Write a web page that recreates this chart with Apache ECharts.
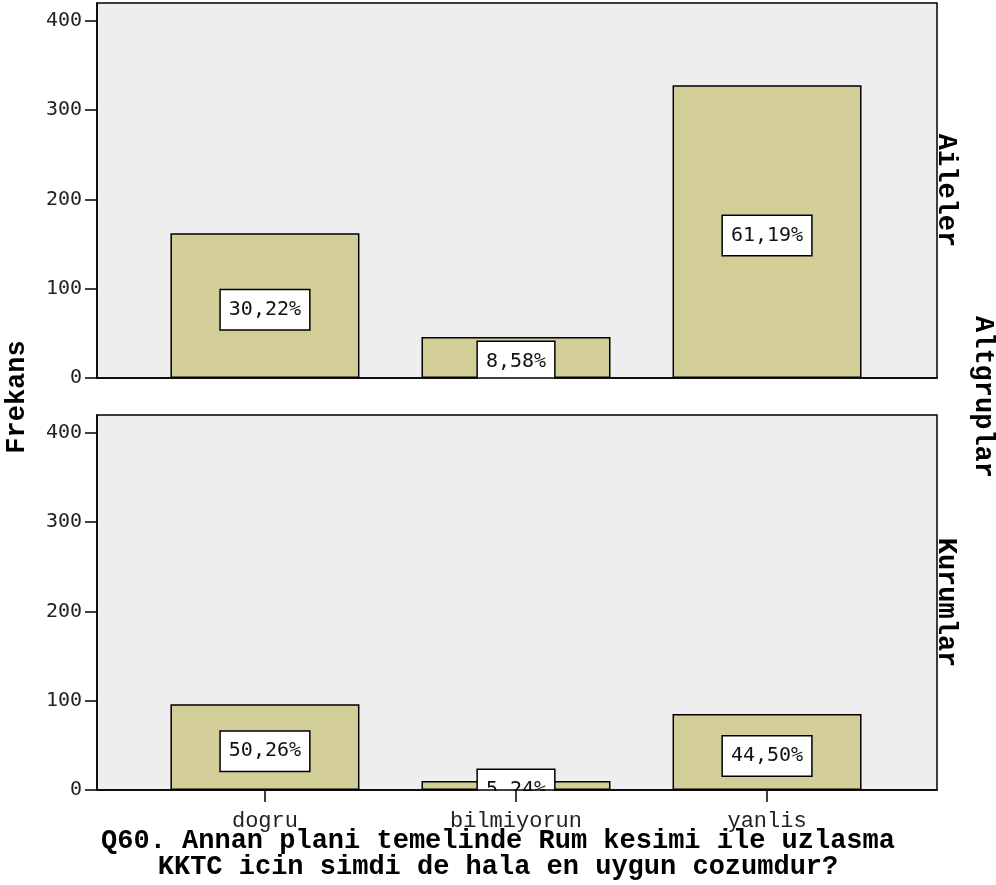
<!DOCTYPE html>
<html>
<head>
<meta charset="utf-8">
<script src="https://cdn.jsdelivr.net/npm/echarts@6/dist/echarts.min.js"></script>
<style>html,body{margin:0;padding:0;background:#fff;}#c{width:996px;height:885px;}</style>
</head>
<body>
<div id="c"></div>
<script>
const categories = ['dogru', 'bilmiyorun', 'yanlis'];
const ailelerCounts = [162, 46, 328];
const kurumlarCounts = [96, 10, 85];
const ailelerPct = ['30,22%', '8,58%', '61,19%'];
const kurumlarPct = ['50,26%', '5,24%', '44,50%'];
const yTickValues = [0, 100, 200, 300, 400];
const panelNames = ['Aileler', 'Kurumlar'];
const yAxisTitle = 'Frekans';
const groupTitle = 'Altgruplar';
const chartTitle = 'Q60. Annan plani temelinde Rum kesimi ile uzlasma\nKKTC icin simdi de hala en uygun cozumdur?';

const GL = 97, GW = 840;
const T1 = 3, H1 = 375, T2 = 415, H2 = 375;
const BAR = '#D3CE98';
const mono = 'DejaVu Sans Mono';
const courier = 'Liberation Mono';

function grid(top, h) {
  return { left: GL, top: top, width: GW, height: h, show: true, backgroundColor: '#EEEEEE', borderColor: '#000', borderWidth: 1.5 };
}
function xAx(idx, showLabels) {
  return {
    type: 'value', gridIndex: idx, min: -0.669, max: 2.677, z: 10,
    axisLine: { show: true, onZero: false, lineStyle: { color: '#000', width: 1.5 } },
    axisTick: { show: showLabels, customValues: [0, 1, 2], length: 12, lineStyle: { color: '#000', width: 1.5 } },
    axisLabel: { show: showLabels, customValues: [0, 1, 2], margin: 20, color: '#222', fontFamily: courier, fontSize: 22,
      formatter: v => categories[Math.round(v)] },
    splitLine: { show: false }
  };
}
function yAx(idx) {
  return {
    type: 'value', gridIndex: idx, min: 0, max: 420, z: 10,
    axisLine: { show: true, onZero: false, lineStyle: { color: '#000', width: 1.5 } },
    axisTick: { show: true, customValues: yTickValues, length: 12, lineStyle: { color: '#000', width: 1.5 } },
    axisLabel: { customValues: yTickValues, margin: 15, color: '#222', fontFamily: mono, fontSize: 20 },
    splitLine: { show: false }
  };
}
function barSeries(idx, counts, pcts) {
  return {
    type: 'bar', xAxisIndex: idx, yAxisIndex: idx, barWidth: 189, z: 2,
    data: counts.map((v, i) => [i, v]),
    itemStyle: { color: BAR, borderColor: '#000', borderWidth: 1.5 },
    label: {
      show: true, position: 'inside', offset: [0, 4],
      formatter: p => pcts[p.dataIndex],
      fontFamily: mono, fontSize: 20, color: '#111', lineHeight: 23,
      backgroundColor: '#fff', borderColor: '#000', borderWidth: 1.5, padding: [8, 8]
    }
  };
}
const boldText = (txt, x, y, rot) => ({
  type: 'text', x: x, y: y, rotation: rot, z: 20,
  style: { text: txt, fontFamily: courier, fontWeight: 'bold', fontSize: 27, fill: '#000', textAlign: 'center', textVerticalAlign: 'middle' }
});

const chart = echarts.init(document.getElementById('c'), null, { renderer: 'canvas' });
chart.setOption({
  animation: false,
  backgroundColor: '#fff',
  title: {
    text: chartTitle, left: 'center', top: 823, z: 12,
    textStyle: { fontFamily: courier, fontWeight: 'bold', fontSize: 27, lineHeight: 26, color: '#000', align: 'center' }
  },
  grid: [grid(T1, H1), grid(T2, H2)],
  xAxis: [xAx(0, false), xAx(1, true)],
  yAxis: [yAx(0), yAx(1)],
  series: [barSeries(0, ailelerCounts, ailelerPct), barSeries(1, kurumlarCounts, kurumlarPct)],
  graphic: [
    { type: 'rect', z: 5, shape: { x: GL - 1, y: T1 + H1 + 1, width: GW + 2, height: T2 - (T1 + H1) - 3 }, style: { fill: '#fff' } },
    { type: 'rect', z: 5, shape: { x: GL - 1, y: T2 + H2 + 1, width: GW + 2, height: 30 }, style: { fill: '#fff' } },
    boldText(yAxisTitle, 17, 397, Math.PI / 2),
    boldText(groupTitle, 983, 397, -Math.PI / 2),
    boldText(panelNames[0], 946, T1 + H1 / 2, -Math.PI / 2),
    boldText(panelNames[1], 946, T2 + H2 / 2, -Math.PI / 2)
  ]
});
</script>
</body>
</html>
